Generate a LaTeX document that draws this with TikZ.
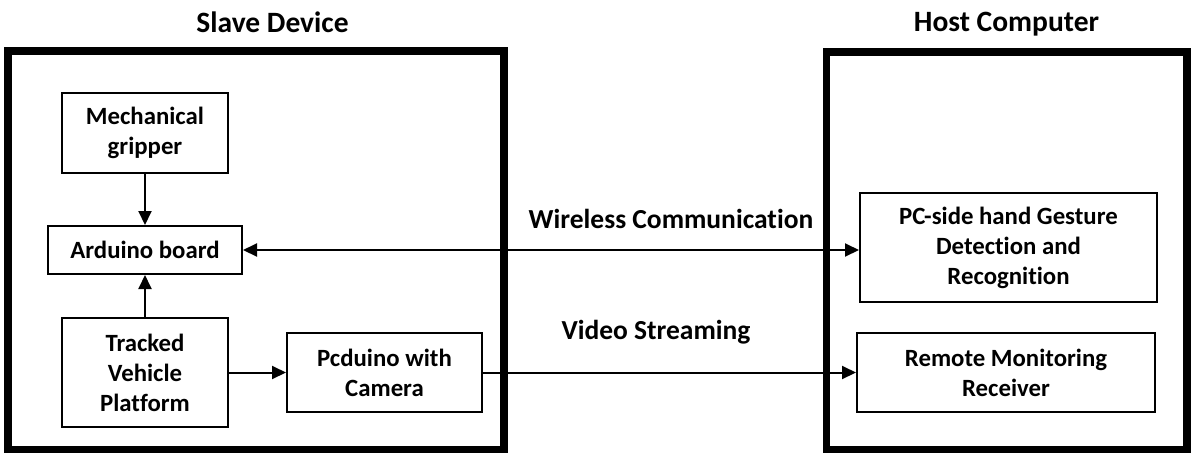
\documentclass[tikz,border=0pt]{standalone}
\usepackage{fontspec}
\setmainfont[Ligatures=NoCommon]{Carlito}
\usetikzlibrary{arrows.meta}
\begin{document}
\begin{tikzpicture}[x=1pt,y=-1pt,
  blk/.style={draw=black,line width=2pt,inner sep=0pt,align=center,font=\fontsize{24.8}{30}\selectfont\bfseries},
  frame/.style={draw=black,line width=7.5pt},
  lbl/.style={inner sep=0pt,font=\fontsize{27.5}{33}\selectfont\bfseries},
  ttl/.style={inner sep=0pt,font=\fontsize{29.5}{35}\selectfont\bfseries},
  conn/.style={line width=2pt,-{Triangle[length=14pt,width=13pt]}},
  conn2/.style={line width=2pt,{Triangle[length=14pt,width=13pt]}-{Triangle[length=14pt,width=13pt]}}]
\useasboundingbox (0,0) rectangle (1195,459);
% frames
\draw[frame] (8,51) rectangle (504,449.5);
\draw[frame] (826.5,52) rectangle (1187,449.5);
\node[ttl] (tslave) at (272.5,22) {Slave Device};
\node[ttl] (thost) at (1006.5,24) {Host Computer};
% blocks
\node[blk,minimum width=166pt,minimum height=80pt] (mg) at (145,133) {Mechanical\\gripper};
\node[blk,minimum width=194pt,minimum height=48pt] (ard) at (145,250) {Arduino board};
\node[blk,minimum width=166pt,minimum height=109pt] (tvp) at (145,372.5) {Tracked\\Vehicle\\Platform};
\node[blk,minimum width=195pt,minimum height=79pt] (pcd) at (384.5,372.5) {Pcduino with\\Camera};
\node[blk,minimum width=297pt,minimum height=109pt] (pcs) at (1008.5,247.5) {PC-side hand Gesture\\Detection and\\Recognition};
\node[blk,minimum width=298pt,minimum height=79pt] (rmr) at (1006,372.5) {Remote Monitoring\\Receiver};
% labels
\node[lbl] (lw) at (671,219) {Wireless Communication};
\node[lbl] (lv) at (656,332) {Video Streaming};
% connectors
\draw[conn] (mg) -- (ard);
\draw[conn] (tvp) -- (ard);
\draw[conn] (tvp.east |- pcd) -- (pcd);
\draw[conn2] (ard.east) -- (pcs.west |- ard.east);
\draw[conn] (pcd.east) -- (rmr.west |- pcd.east);
\end{tikzpicture}
\end{document}
